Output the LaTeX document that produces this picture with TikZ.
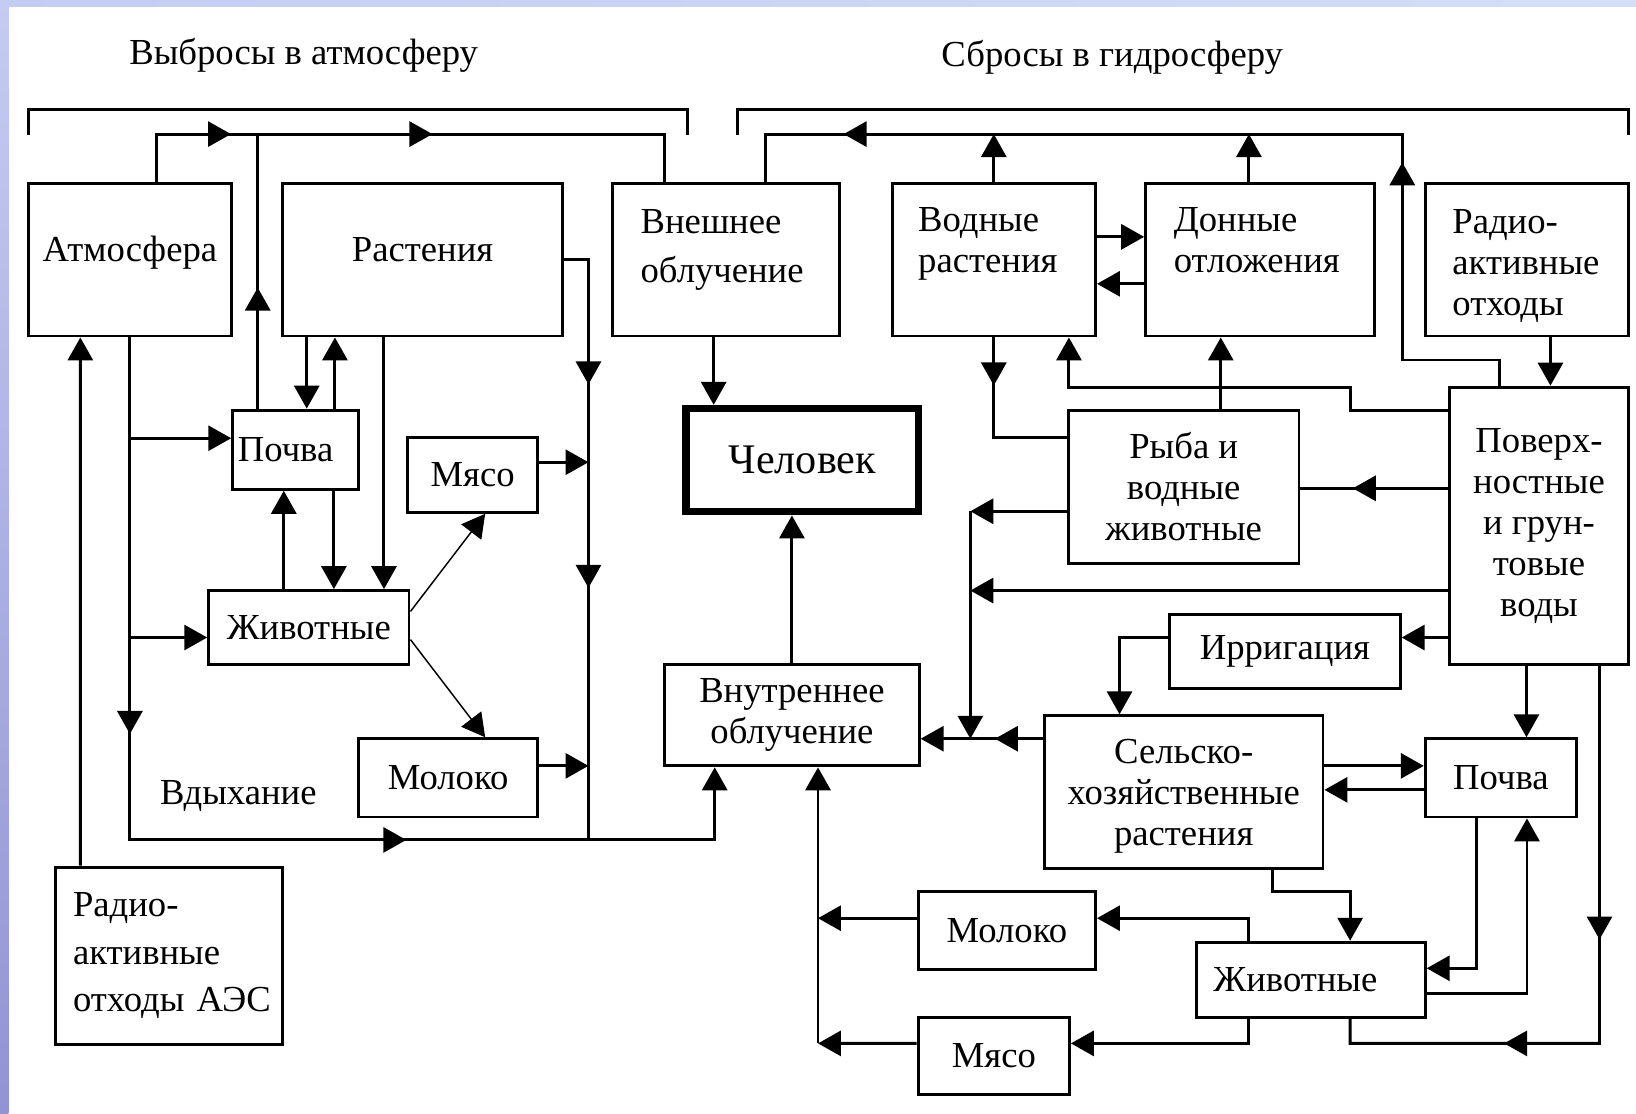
\documentclass[tikz,border=0pt]{standalone}
\usepackage{fontspec}
\setmainfont{Liberation Serif}
\usepackage{xcolor}
\usepackage{tikz}
\usetikzlibrary{positioning,arrows.meta,decorations.markings}
\definecolor{bandtop}{RGB}{196,204,242}
\definecolor{bandbot}{RGB}{146,148,210}
\definecolor{bandright}{RGB}{212,222,246}

\begin{document}
\begin{tikzpicture}[x=1cm,y=-1cm,line width=0.8pt,
    every node/.style={font=\fontsize{10}{11.2}\selectfont},
    box/.style={draw,inner sep=0pt,align=center},
    arr/.style={-{Triangle[length=2.2mm,width=2.4mm]}},
    marr/.style={postaction={decorate,decoration={markings,
        mark=at position #1 with {\arrow{Triangle[length=2.2mm,width=2.4mm]}}}}}]
    \useasboundingbox (0,0) rectangle (15.68,10.67);
    \fill[white] (0,0) rectangle (15.68,10.67);
    \shade[left color=bandtop,right color=bandright] (0,0) rectangle (15.68,0.065);
    \shade[top color=bandtop,bottom color=bandbot] (0,0) rectangle (0.08,10.67);

    \node (Vyb) at (2.91,0.53) {Выбросы в атмосферу};
    \node (Sbr) at (10.66,0.545) {Сбросы в гидросферу};
    \draw (0.276,1.29) |- (6.59,1.045) -- (6.59,1.29);
    \draw (7.07,1.29) |- (15.61,1.045) -- (15.61,1.29);

    \node[box,minimum width=1.95cm,minimum height=1.46cm,text height=7pt,text depth=6pt] (Atm) at (1.245,2.49) {Атмосфера};
    \node[box,minimum width=2.68cm,minimum height=1.46cm,text height=7pt,text depth=6pt] (Rast) at (4.05,2.49) {Растения};
    \node[box,minimum width=2.18cm,minimum height=1.46cm,inner xsep=2.7mm,text width=1.64cm,align=left,text height=7pt,text depth=21.5pt] (Vnesh) at (6.96,2.49) {Внешнее\\[2.2pt]облучение};
    \node[box,minimum width=1.95cm,minimum height=1.46cm,inner xsep=2.5mm,text width=1.45cm,align=left,text height=7pt,text depth=22.4pt] (Vodn) at (9.525,2.49) {Водные\\растения};
    \node[box,minimum width=2.19cm,minimum height=1.46cm,inner xsep=2.7mm,text width=1.65cm,align=left,text height=7pt,text depth=22.4pt] (Donn) at (12.075,2.49) {Донные\\отложения};
    \node[box,minimum width=1.95cm,minimum height=1.46cm,inner xsep=2.6mm,text width=1.43cm,align=left,text height=7pt,text depth=21.4pt] (RaoR) at (14.635,2.49) {Радио-\\активные\\отходы};
    \node[box,line width=2pt,minimum width=2.23cm,minimum height=0.99cm,font=\fontsize{11.5}{13}\selectfont] (Chel) at (7.69,4.41) {Человек};
    \node[box,minimum width=1.21cm,minimum height=0.76cm,inner xsep=0.5mm,text width=1.11cm,align=left] (PochL) at (2.835,4.31) {Почва};
    \node[box,minimum width=1.24cm,minimum height=0.72cm] (MyasoL) at (4.53,4.55) {Мясо};
    \node[box,minimum width=1.92cm,minimum height=0.71cm] (ZhivL) at (2.96,6.015) {Животные};
    \node[box,minimum width=1.71cm,minimum height=0.75cm] (MolL) at (4.295,7.455) {Молоко};
    \node[anchor=west,inner sep=0pt] (Vdyh) at (1.52,7.63) {Вдыхание};
    \node[box,minimum width=2.18cm,minimum height=1.70cm,inner xsep=1.7mm,text width=1.84cm,align=left] (RaoA) at (1.62,9.16) {Радио-\\[1.8pt]активные\\[1.8pt]\mbox{отходы АЭС}};
    \node[box,minimum width=2.44cm,minimum height=0.97cm] (Vnutr) at (7.59,6.855) {Внутреннее\\облучение};
    \node[box,minimum width=2.21cm,minimum height=1.47cm] (Ryba) at (11.345,4.665) {Рыба и\\водные\\животные};
    \node[box,minimum width=1.72cm,minimum height=2.66cm] (Pov) at (14.75,5.04) {Поверх-\\ностные\\и грун-\\товые\\воды};
    \node[box,minimum width=2.21cm,minimum height=0.71cm] (Irr) at (12.315,6.245) {Ирригация};
    \node[box,minimum width=2.67cm,minimum height=1.46cm,text depth=-1.8pt] (Selsk) at (11.345,7.59) {Сельско-\\хозяйственные\\растения};
    \node[box,minimum width=1.45cm,minimum height=0.75cm] (PochR) at (14.385,7.455) {Почва};
    \node[box,minimum width=1.70cm,minimum height=0.75cm] (MolR) at (9.65,8.915) {Молоко};
    \node[box,minimum width=2.19cm,minimum height=0.72cm,inner xsep=1.6mm,text width=1.87cm,align=left] (ZhivR) at (12.565,9.39) {Животные};
    \node[box,minimum width=1.45cm,minimum height=0.74cm] (MyasoR) at (9.525,10.12) {Мясо};

    \coordinate (aL) at (1.50,1.285);
    \coordinate (aR) at (6.37,1.285);
    \coordinate (pt) at (2.47,1.285);
    \coordinate (inh) at (1.245,8.05);
    \coordinate (inhR) at (6.85,8.05);
    \coordinate (b1) at (1.245,4.20);
    \coordinate (b2) at (1.245,6.11);
    \coordinate (rv) at (5.64,8.05);
    \coordinate (vb) at (7.84,10.0);
    \coordinate (pk) at (13.44,3.45);
    \coordinate (hR) at (13.44,1.285);
    \coordinate (hL) at (7.34,1.285);
    \coordinate (pw1) at (12.94,3.71);
    \coordinate (pw2) at (10.245,3.71);
    \coordinate (jv) at (9.30,7.08);
    \coordinate (pb) at (15.33,10.0);
    \coordinate (sz) at (12.94,8.54);

    \draw[marr=1.175cm,marr=3.105cm] (Atm.north -| aL) -- (aL) -- (aR) -- (Vnesh.north -| aR);
    \draw[marr=1.16cm] (PochL.north -| pt) -- (pt);
    \draw[arr,marr=3.8cm,marr=7.465cm] (Atm.south) -- (inh) -- (inhR) -- (Vnutr.south -| inhR);
    \draw[arr] (b1) -- (b1 -| PochL.west);
    \draw[arr] (b2) -- (b2 -| ZhivL.west);
    \draw[arr] ([xshift=-8.5mm]RaoA.north) -- ([xshift=-4.75mm]Atm.south);
    \draw[arr] ([xshift=-11.1mm]Rast.south) -- ([xshift=-11.1mm]Rast.south |- PochL.north);
    \draw[arr] ([xshift=3.75mm]PochL.north) -- ([xshift=3.75mm]PochL.north |- Rast.south);
    \draw[arr] ([xshift=-3.7mm]Rast.south) -- ([xshift=-3.7mm]Rast.south |- ZhivL.north);
    \draw[arr] ([xshift=3.65mm]PochL.south) -- ([xshift=3.65mm]PochL.south |- ZhivL.north);
    \draw[arr] ([xshift=-2.4mm]ZhivL.north) -- ([xshift=-2.4mm]ZhivL.north |- PochL.south);
    \draw[arr,line width=0.4pt] ([yshift=1.55mm]ZhivL.east) -- ([xshift=1.2mm]MyasoL.south);
    \draw[arr,line width=0.4pt] ([yshift=-1.15mm]ZhivL.east) -- ([xshift=3.55mm]MolL.north);
    \draw[marr=1.43cm,marr=3.38cm] (Rast.east) -| (rv);
    \draw[arr] ([yshift=1.2mm]MyasoL.east) -- ([yshift=1.2mm]MyasoL.east -| rv);
    \draw[arr] ([yshift=1.15mm]MolL.east) -- ([yshift=1.15mm]MolL.east -| rv);
    \draw[arr] ([xshift=-1.2mm]Vnesh.south) -- ([xshift=-1.2mm]Vnesh.south |- Chel.north);
    \draw[arr] (Vnutr.north) -- (Vnutr.north |- Chel.south);
    \draw[arr] (vb) -- (vb |- Vnutr.south);
    \draw[arr] ([yshift=1.15mm]MolR.west) -- ([yshift=1.15mm]MolR.west -| vb);
    \draw[arr] ([yshift=1.2mm]MyasoR.west) -- (vb);

    \draw[marr=3.075cm,marr=8.70cm] ([xshift=-3.75mm]Pov.north) |- (pk) -- (hR) -- (hL) -- (Vnesh.north -| hL);
    \draw[arr] (Vodn.north) -- (Vodn.north |- hL);
    \draw[arr] ([xshift=-1.05mm]Donn.north) -- ([xshift=-1.05mm]Donn.north |- hL);
    \draw[arr] ([xshift=2.25mm]RaoR.south) -- ([xshift=2.25mm]RaoR.south |- Pov.north);
    \draw[arr] ([yshift=2.2mm]Vodn.east) -- ([yshift=2.2mm]Vodn.east -| Donn.west);
    \draw[arr] ([yshift=-2.3mm]Donn.west) -- ([yshift=-2.3mm]Donn.west -| Vodn.east);
    \draw[marr=0.46cm] (Vodn.south) |- ([yshift=4.75mm]Ryba.west);
    \draw[arr] ([yshift=11.05mm]Pov.west) -| (pw1) -- (pw2) -- (pw2 |- Vodn.south);
    \draw[arr] ([xshift=3.55mm]Ryba.north) -- ([xshift=3.55mm]Ryba.north |- Donn.south);
    \draw[marr=0.91cm] ([yshift=3.6mm]Pov.west) -- ([yshift=3.6mm]Pov.west -| Ryba.east);
    \draw[arr] ([yshift=-2.35mm]Ryba.west) -- ([yshift=-2.35mm]Ryba.west -| jv);
    \draw[arr] ([yshift=-2.35mm]Ryba.west -| jv) -- (jv);
    \draw[arr] ([yshift=-6.2mm]Pov.west) -- ([yshift=-6.2mm]Pov.west -| jv);
    \draw[arr] ([yshift=-10.7mm]Pov.west) -- ([yshift=-10.7mm]Pov.west -| Irr.east);
    \draw[arr] ([yshift=1.35mm]Irr.west) -| ([xshift=-6.15mm]Selsk.north);
    \draw[arr,marr=0.46cm] ([yshift=5.1mm]Selsk.west) -- ([yshift=5.1mm]Selsk.west -| Vnutr.east);
    \draw[arr] ([xshift=-1.2mm]Pov.south) -- ([xshift=-1.2mm]Pov.south |- PochR.north);
    \draw[marr=2.62cm,marr=4.53cm] ([xshift=5.8mm]Pov.south) -- (pb) -| ([xshift=3.75mm]ZhivR.south);
    \draw[arr] ([yshift=2.5mm]Selsk.east) -- ([yshift=2.5mm]Selsk.east -| PochR.west);
    \draw[arr] ([yshift=-1.15mm]PochR.west) -- ([yshift=-1.15mm]PochR.west -| Selsk.east);
    \draw[arr] ([xshift=-2.35mm]PochR.south) |- ([yshift=1.1mm]ZhivR.east);
    \draw[arr] ([yshift=-1.3mm]ZhivR.east) -| ([xshift=2.5mm]PochR.south);
    \draw[arr] ([xshift=8.55mm]Selsk.south) |- (sz) -- (sz |- ZhivR.north);
    \draw[arr] ([xshift=-5.95mm]ZhivR.north) |- ([yshift=1.15mm]MolR.east);
    \draw[arr] ([xshift=-5.95mm]ZhivR.south) |- ([yshift=1.2mm]MyasoR.east);
\end{tikzpicture}
\end{document}
